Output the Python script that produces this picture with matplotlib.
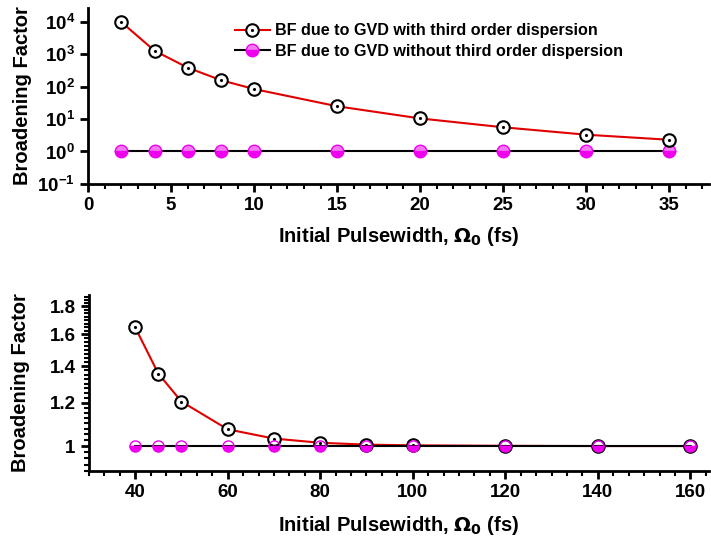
import matplotlib
matplotlib.use("Agg")
import matplotlib.pyplot as plt
from matplotlib.ticker import MultipleLocator, AutoMinorLocator, LogLocator, FixedLocator, FixedFormatter, NullFormatter
from matplotlib.legend_handler import HandlerTuple

plt.rcParams['font.family'] = ['Liberation Sans', 'DejaVu Sans']
plt.rcParams['font.weight'] = 'bold'
plt.rcParams['mathtext.default'] = 'regular'
plt.rcParams['axes.unicode_minus'] = False

# Top panel data
x_top = [2, 4, 6, 8, 10, 15, 20, 25, 30, 35]
bf_tod_top = [10000, 1300, 390, 160, 85, 25, 10.5, 5.6, 3.3, 2.3]
bf_no_top = [1, 1, 1, 1, 1, 1, 1, 1, 1, 1]

# Bottom panel data
x_bot = [40, 45, 50, 60, 70, 80, 90, 100, 120, 140, 160]
bf_tod_bot = [1.648, 1.357, 1.206, 1.073, 1.032, 1.014, 1.006, 1.003, 1.001, 1.0, 1.0]
bf_no_bot = [1, 1, 1, 1, 1, 1, 1, 1, 1, 1, 1]

label_tod = "BF due to GVD with third order dispersion"
label_no = "BF due to GVD without third order dispersion"
xlabel = r"Initial Pulsewidth, $\mathbf{\Omega_0}$ (fs)"
ylabel = "Broadening Factor"

fig = plt.figure(figsize=(7.11, 5.39), dpi=100)
ax1 = fig.add_axes([0.124, 0.659, 0.873, 0.327])
ax2 = fig.add_axes([0.125, 0.126, 0.872, 0.327])

def style(ax):
    for s in ['top', 'right']:
        ax.spines[s].set_visible(False)
    for s in ['left', 'bottom']:
        ax.spines[s].set_linewidth(2)
    ax.tick_params(which='major', direction='out', length=6, width=2, labelsize=13.5)
    ax.tick_params(which='minor', direction='out', length=3.5, width=1.5)
    for t in ax.get_xticklabels() + ax.get_yticklabels():
        t.set_fontweight('bold')

# Top
l_no, = ax1.plot(x_top, bf_no_top, color='black', lw=1.5, marker='o', ms=9,
                 mfc='#ee00ee', mec='#ee00ee', fillstyle='bottom', mfcalt='#f27af2', zorder=3)
l_tod, = ax1.plot(x_top, bf_tod_top, color='#e00000', lw=1.5, marker='o', ms=9,
                  mfc='white', mec='black', mew=1.5, zorder=4)
d_tod, = ax1.plot(x_top, bf_tod_top, ls='none', marker='.', ms=2.5, color='black', zorder=5)
ax1.set_yscale('log')
ax1.set_ylim(10**-1, 10**4.45)
ax1.set_xlim(0, 37.4)
ax1.xaxis.set_major_locator(MultipleLocator(5))
ax1.xaxis.set_minor_locator(MultipleLocator(1))
ax1.yaxis.set_major_locator(FixedLocator([0.1, 1, 10, 100, 1000, 10000]))
ax1.yaxis.set_major_formatter(FixedFormatter(['10$^{-1}$', '10$^{0}$', '10$^{1}$', '10$^{2}$', '10$^{3}$', '10$^{4}$']))
ax1.yaxis.set_minor_locator(LogLocator(base=10, subs=range(2, 10)))
ax1.yaxis.set_minor_formatter(NullFormatter())
style(ax1)
ax1.set_xlabel(xlabel, fontsize=14.5, fontweight='bold', labelpad=8)
ax1.set_ylabel(ylabel, fontsize=14.5, fontweight='bold')
ax1.yaxis.set_label_coords(-0.09, 0.5)
leg = ax1.legend([(l_tod, d_tod), l_no], [label_tod, label_no],
                 handler_map={tuple: HandlerTuple(ndivide=1)},
                 loc='upper left', bbox_to_anchor=(0.218, 0.975), frameon=False,
                 prop={'weight': 'bold', 'size': 11.6}, handlelength=2.2,
                 handletextpad=0.3, labelspacing=0.35, borderaxespad=0.3)

# Bottom
ax2.plot(x_bot, bf_tod_bot, color='#e00000', lw=1.5, marker='o', ms=9,
         mfc='white', mec='black', mew=1.5, zorder=2)
ax2.plot(x_bot, bf_tod_bot, ls='none', marker='.', ms=2.5, color='black', zorder=2.5)
ax2.plot(x_bot, bf_no_bot, color='black', lw=1.5, marker='o', ms=8,
         mfc='#ee00ee', mec='#ee00ee', fillstyle='bottom', mfcalt='none', zorder=3)
ax2.set_yscale('log')
ax2.set_ylim(0.9, 1.89)
ax2.set_xlim(30, 164)
ax2.xaxis.set_major_locator(MultipleLocator(20))
ax2.xaxis.set_minor_locator(AutoMinorLocator(6))
ax2.yaxis.set_major_locator(FixedLocator([1.0, 1.2, 1.4, 1.6, 1.8]))
ax2.yaxis.set_major_formatter(FixedFormatter(['1', '1.2', '1.4', '1.6', '1.8']))
ax2.yaxis.set_minor_locator(MultipleLocator(0.025))
ax2.yaxis.set_minor_formatter(NullFormatter())
style(ax2)
ax2.set_xlabel(xlabel, fontsize=14.5, fontweight='bold', labelpad=9)
ax2.set_ylabel(ylabel, fontsize=14.5, fontweight='bold')
ax2.yaxis.set_label_coords(-0.095, 0.5)

fig.savefig("out.png", dpi=100)
